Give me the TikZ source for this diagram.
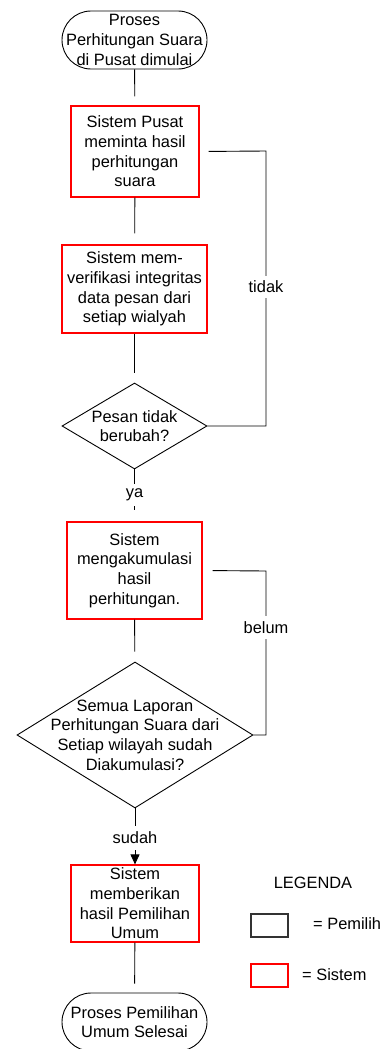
\documentclass[tikz,border=0pt]{standalone}
\usepackage{fontspec}
\setmainfont{Liberation Sans}
\usetikzlibrary{shapes.geometric,arrows.meta}

\definecolor{sysred}{RGB}{255,0,0}

\tikzset{
  base/.style={font=\fontsize{16.4}{19.7}\selectfont, align=center, inner sep=0pt},
  term/.style={base, draw=black, line width=0.9pt, rounded corners=29pt,
               minimum width=145pt, minimum height=58pt},
  sysbox/.style={base, draw=sysred, line width=1.2pt},
  dia/.style={diamond, draw=black, line width=0.9pt, inner sep=0pt},
  txt/.style={base},
  ln/.style={draw=black, line width=0.9pt},
  lbl/.style={base, fill=white, inner xsep=1pt, inner ysep=5pt},
  legbox/.style={draw, line width=1.1pt, minimum width=37pt, minimum height=23pt, inner sep=0pt},
}

\begin{document}
\begin{tikzpicture}[x=1pt,y=-1pt]
\useasboundingbox (0,0) rectangle (382,1049);

% process steps
\node[term] (start) at (134.5,40) {Proses\\Perhitungan Suara\\di Pusat dimulai};
\node[sysbox, minimum width=128pt, minimum height=91pt] (b1) at (135,151.5)
  {Sistem Pusat\\meminta hasil\\perhitungan\\suara};
\node[sysbox, minimum width=145pt, minimum height=88pt] (b2) at (134.5,289)
  {Sistem mem-\\verifikasi integritas\\data pesan dari\\setiap wialyah};
\node[dia, minimum width=145pt, minimum height=86pt] (d1) at (134.5,426) {};
\node[txt] (d1t) at (d1) {Pesan tidak\\berubah?};
\node[sysbox, minimum width=135pt, minimum height=97pt] (b3) at (134.5,570.5)
  {Sistem\\mengakumulasi\\hasil\\perhitungan.};
\node[dia, minimum width=236pt, minimum height=146pt] (d2) at (135,735) {};
\node[txt] (d2t) at (d2) {Semua Laporan\\Perhitungan Suara dari\\Setiap wilayah sudah\\Diakumulasi?};
\node[sysbox, minimum width=128pt, minimum height=77pt] (b4) at (135,903.5)
  {Sistem\\memberikan\\hasil Pemilihan\\Umum};
\node[term] (stop) at (134.5,1022) {Proses Pemilihan\\Umum Selesai};

% loop-back corners
\coordinate (c1) at (266,151);
\coordinate (c2) at (266,571);

% main flow
\draw[ln, shorten >=9pt] (start) -- (b1);
\draw[ln, shorten >=11pt] (b1) -- (b2);
\draw[ln, shorten >=10pt] (b2) -- (d1);
\draw[ln, shorten >=11pt] (d1) -- (b3);
\node[lbl] (lya) at (134.5,495) {ya};
\draw[ln, shorten >=10pt] (b3) -- (d2);
\draw[ln, -{Triangle[length=10pt,width=9pt]}] (d2) -- (b4);
\node[lbl, inner ysep=6pt] (lsudah) at (135,838) {sudah};
\draw[ln, shorten >=9pt] (b4) -- (stop);

% return paths
\draw[ln, shorten >=9pt] (d1.east) -| (c1) -- (b1.east);
\node[lbl] (ltidak) at (266,287) {tidak};
\draw[ln, shorten >=10pt] (d2.east) -| (c2) -- (b3.east);
\node[lbl] (lbelum) at (266,627.5) {belum};

% legend
\node[txt] (leg) at (313,883) {LEGENDA};
\node[legbox, draw=black!80] (lg1) at (269.5,925.5) {};
\node[txt, anchor=west] (lg1t) at (313,924) {= Pemilih};
\node[legbox, draw=sysred] (lg2) at (269.5,975.5) {};
\node[txt, anchor=west] (lg2t) at (302,975) {= Sistem};
\end{tikzpicture}
\end{document}
